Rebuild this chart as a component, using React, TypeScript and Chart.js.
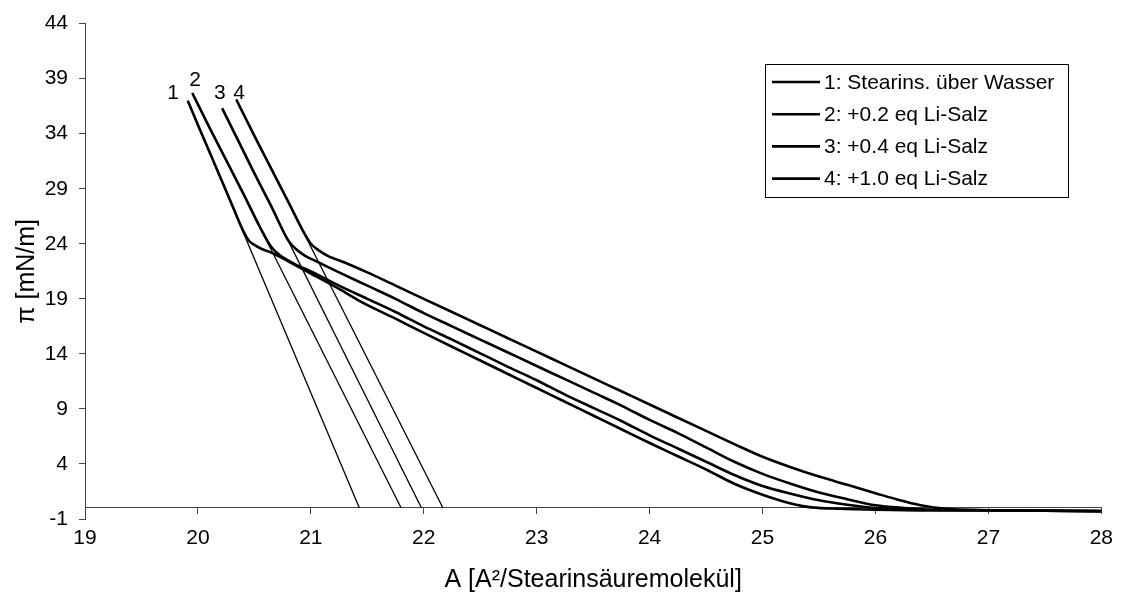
import { useEffect, useRef } from 'react';
import { Chart, registerables } from 'chart.js';

Chart.register(...registerables);

const FONT = '"Liberation Sans", Arial, Helvetica, sans-serif';

// Axis ticks
const xTicks = [19, 20, 21, 22, 23, 24, 25, 26, 27, 28];
const yTicks = [-1, 4, 9, 14, 19, 24, 29, 34, 39, 44];

// Series names (legend)
const seriesNames = [
  '1: Stearins. über Wasser',
  '2: +0.2 eq Li-Salz',
  '3: +0.4 eq Li-Salz',
  '4: +1.0 eq Li-Salz',
];

// Curve 1
const c1X = [19.91, 20.0, 20.1, 20.2, 20.3, 20.4, 20.45, 20.5, 20.57, 20.65, 20.8, 21.0, 21.25, 21.45, 21.75, 22.0, 22.25, 22.5, 22.75, 23.0, 23.25, 23.5, 23.75, 24.0, 24.25, 24.5, 24.75, 25.0, 25.2, 25.4, 25.6, 26.0, 26.5, 27.0, 27.5, 28.0];
const c1Y = [37.0, 34.8, 32.4, 30.0, 27.6, 25.2, 24.3, 23.9, 23.5, 23.2, 22.4, 21.3, 19.9, 18.7, 17.2, 15.9, 14.65, 13.4, 12.15, 10.9, 9.65, 8.4, 7.15, 5.9, 4.7, 3.5, 2.2, 1.2, 0.55, 0.1, -0.05, -0.15, -0.2, -0.2, -0.25, -0.25];

// Curve 2
const c2X = [19.95, 20.1, 20.25, 20.4, 20.55, 20.65, 20.72, 20.85, 21.0, 21.25, 21.5, 21.75, 22.0, 22.25, 22.5, 22.75, 23.0, 23.25, 23.5, 23.75, 24.0, 24.25, 24.5, 24.75, 25.0, 25.25, 25.5, 25.75, 26.0, 26.25, 26.5, 27.0, 27.5, 28.0];
const c2Y = [37.7, 34.6, 31.6, 28.6, 25.5, 23.7, 23.0, 22.2, 21.5, 20.2, 19.0, 17.8, 16.5, 15.3, 14.05, 12.8, 11.6, 10.3, 9.1, 7.9, 6.6, 5.4, 4.2, 3.0, 2.0, 1.3, 0.7, 0.3, 0.0, -0.15, -0.2, -0.2, -0.25, -0.3];

// Curve 3
const c3X = [20.215, 20.35, 20.5, 20.65, 20.8, 20.87, 20.95, 21.05, 21.25, 21.5, 21.75, 22.0, 22.25, 22.5, 22.75, 23.0, 23.25, 23.5, 23.75, 24.0, 24.25, 24.5, 24.75, 25.0, 25.25, 25.5, 25.75, 26.0, 26.25, 26.5, 27.0, 27.5, 28.0];
const c3Y = [36.3, 33.5, 30.4, 27.4, 24.3, 23.5, 22.9, 22.4, 21.4, 20.2, 19.0, 17.7, 16.5, 15.3, 14.1, 12.9, 11.7, 10.5, 9.3, 8.0, 6.8, 5.5, 4.2, 3.1, 2.2, 1.4, 0.8, 0.25, 0.0, -0.15, -0.2, -0.25, -0.3];

// Curve 4
const c4X = [20.34, 20.5, 20.65, 20.8, 20.95, 21.0, 21.07, 21.15, 21.3, 21.5, 21.75, 22.0, 22.25, 22.5, 22.75, 23.0, 23.25, 23.5, 23.75, 24.0, 24.25, 24.5, 24.75, 25.0, 25.25, 25.5, 25.75, 26.0, 26.2, 26.4, 26.6, 27.0, 27.5, 28.0];
const c4Y = [37.1, 33.8, 30.8, 27.8, 24.8, 24.0, 23.4, 22.9, 22.3, 21.4, 20.2, 19.0, 17.8, 16.6, 15.4, 14.2, 13.0, 11.8, 10.6, 9.4, 8.2, 7.0, 5.8, 4.65, 3.7, 2.85, 2.1, 1.35, 0.75, 0.25, -0.05, -0.2, -0.25, -0.3];

// Tangent (extrapolation) lines: from the curve top down to pi = 0
const tangentTopX = [19.91, 19.95, 20.215, 20.34];
const tangentTopY = [37.0, 37.7, 36.3, 37.1];
const tangentZeroX = [21.43, 21.8, 21.98, 22.17];
const tangentZeroY = [0, 0, 0, 0];

// Curve number tags near the curve tops
const tagText = ['1', '2', '3', '4'];
const tagX = [19.78, 19.975, 20.195, 20.365];
const tagY = [37.7, 38.9, 37.7, 37.7];

const curvesX = [c1X, c2X, c3X, c4X];
const curvesY = [c1Y, c2Y, c3Y, c4Y];

const tagPlugin = {
  id: 'curveTags',
  afterDatasetsDraw(chart: any) {
    const { ctx, scales } = chart;
    ctx.save();
    ctx.fillStyle = '#000';
    ctx.font = `21px ${FONT}`;
    ctx.textAlign = 'center';
    ctx.textBaseline = 'middle';
    tagText.forEach((t, i) => {
      ctx.fillText(t, scales.x.getPixelForValue(tagX[i]), scales.y.getPixelForValue(tagY[i]));
    });
    ctx.restore();
  },
};

const legendPlugin = {
  id: 'boxLegend',
  afterDraw(chart: any) {
    const { ctx } = chart;
    const left = 765;
    const top = 64;
    const w = 303;
    const h = 133;
    ctx.save();
    ctx.fillStyle = '#fff';
    ctx.fillRect(left, top, w, h);
    ctx.strokeStyle = '#000';
    ctx.lineWidth = 1;
    ctx.strokeRect(left + 0.5, top + 0.5, w, h);
    ctx.font = `21px ${FONT}`;
    ctx.textAlign = 'left';
    ctx.textBaseline = 'middle';
    seriesNames.forEach((name, i) => {
      const y = top + 18 + i * 32.2;
      ctx.beginPath();
      ctx.lineWidth = 2.6;
      ctx.strokeStyle = '#000';
      ctx.moveTo(772, y);
      ctx.lineTo(820, y);
      ctx.stroke();
      ctx.fillStyle = '#000';
      ctx.fillText(name, 824, y + 1);
    });
    ctx.restore();
  },
};

export default function App() {
  const ref = useRef<HTMLCanvasElement | null>(null);

  useEffect(() => {
    document.body.style.margin = '0';
    if (!ref.current) return;

    const curveSets = curvesX.map((xs, k) => ({
      label: seriesNames[k],
      data: xs.map((x, i) => ({ x, y: curvesY[k][i] })),
      borderColor: '#000',
      borderWidth: 2.6,
      pointRadius: 0,
      fill: false,
      cubicInterpolationMode: 'monotone' as const,
    }));

    const tangentSets = tangentTopX.map((x, k) => ({
      label: 'tangent ' + (k + 1),
      data: [
        { x, y: tangentTopY[k] },
        { x: tangentZeroX[k], y: tangentZeroY[k] },
      ],
      borderColor: '#000',
      borderWidth: 1.3,
      pointRadius: 0,
      fill: false,
    }));

    const axisColor = '#444';
    const chart = new Chart(ref.current, {
      type: 'line',
      data: { datasets: [...tangentSets, ...curveSets] },
      options: {
        animation: false,
        responsive: false,
        parsing: true,
        layout: { padding: { left: 0, top: 22, right: 16, bottom: 78 } },
        plugins: {
          legend: { display: false },
          tooltip: { enabled: false },
        },
        scales: {
          x: {
            type: 'linear',
            min: 19,
            max: 28,
            position: { y: 0 } as any,
            afterBuildTicks: (s: any) => {
              s.ticks = xTicks.map((v) => ({ value: v }));
            },
            afterFit: (s: any) => {
              s.height = 78;
            },
            grid: { display: true, drawOnChartArea: false, drawTicks: true, tickLength: 6, color: axisColor },
            border: { display: true, color: axisColor, width: 1 },
            ticks: {
              color: '#000',
              font: { family: FONT, size: 21 },
              padding: 12,
              maxRotation: 0,
              autoSkip: false,
            },
            title: {
              display: true,
              text: 'A [A²/Stearinsäuremolekül]',
              color: '#000',
              font: { family: FONT, size: 25, lineHeight: 0.48 },
              padding: 0,
            },
          },
          y: {
            type: 'linear',
            min: -1,
            max: 44,
            position: 'left',
            afterBuildTicks: (s: any) => {
              s.ticks = yTicks.map((v) => ({ value: v }));
            },
            afterFit: (s: any) => {
              s.width = 85;
            },
            grid: { display: true, drawOnChartArea: false, drawTicks: true, tickLength: 6, color: axisColor },
            border: { display: true, color: axisColor, width: 1 },
            ticks: {
              color: '#000',
              font: { family: FONT, size: 21 },
              padding: 11,
              autoSkip: false,
            },
            title: {
              display: true,
              text: 'π [mN/m]',
              color: '#000',
              font: { family: FONT, size: 25 },
              padding: { top: 12, bottom: 0 },
            },
          },
        },
      },
      plugins: [tagPlugin, legendPlugin],
    });

    return () => chart.destroy();
  }, []);

  return (
    <div style={{ width: 1125, height: 597, background: '#fff' }}>
      <canvas ref={ref} width={1125} height={597} />
    </div>
  );
}
